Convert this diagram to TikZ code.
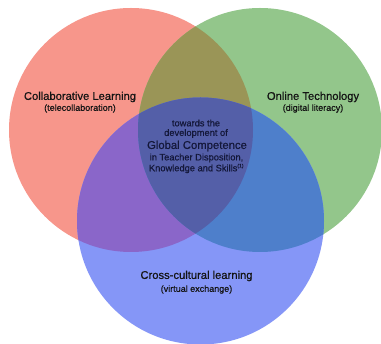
\documentclass[tikz,border=0pt]{standalone}
\usepackage{fontspec}
\setmainfont{Liberation Sans}[FakeBold=0.6]
\newfontfamily\labelfont{Liberation Sans}[FakeBold=0.6]

% region colours of the three-set Venn diagram
\definecolor{collabfill}{HTML}{F7968B}
\definecolor{techfill}{HTML}{93C68B}
\definecolor{crossfill}{HTML}{8596F7}
\definecolor{collabtech}{HTML}{9A9557}
\definecolor{collabcross}{HTML}{8A66C9}
\definecolor{techcross}{HTML}{4E7FCB}
\definecolor{allthree}{HTML}{545FA8}
\definecolor{labeltext}{HTML}{141414}
\definecolor{coretext}{HTML}{14183A}

\tikzset{
  title/.style={text=labeltext, inner sep=0pt, font=\labelfont\fontsize{11.2}{13}\selectfont},
  subtitle/.style={text=labeltext, inner sep=0pt, font=\labelfont\fontsize{9}{10}\selectfont},
  coreline/.style={text=coretext, inner sep=0pt, font=\labelfont\fontsize{9.3}{11}\selectfont},
  corebig/.style={text=coretext, inner sep=0pt, font=\labelfont\fontsize{11.3}{13}\selectfont},
}

\begin{document}
\begin{tikzpicture}[x=1pt,y=-1pt]
\useasboundingbox (0,0) rectangle (381,344);
\fill[white] (0,0) rectangle (381,344);

\coordinate (cA) at (131,130);
\coordinate (cB) at (260,130);
\coordinate (cC) at (200.5,221);

\begin{scope}
  \clip (0,0) rectangle (381,344);
  % single sets
  \fill[collabfill] (cA) circle[radius=122pt];
  \fill[techfill]   (cB) circle[radius=122pt];
  \fill[crossfill]  (cC) circle[radius=123.5pt];
  % pairwise overlaps
  \begin{scope}
    \clip (cA) circle[radius=122pt];
    \fill[collabtech] (cB) circle[radius=122pt];
  \end{scope}
  \begin{scope}
    \clip (cA) circle[radius=122pt];
    \fill[collabcross] (cC) circle[radius=123.5pt];
  \end{scope}
  \begin{scope}
    \clip (cB) circle[radius=122pt];
    \fill[techcross] (cC) circle[radius=123.5pt];
  \end{scope}
  % common core
  \begin{scope}
    \clip (cA) circle[radius=122pt];
    \clip (cB) circle[radius=122pt];
    \fill[allthree] (cC) circle[radius=123.5pt];
  \end{scope}
\end{scope}

% set labels
\node[title]    (collab)    at (80,97)   {Collaborative Learning};
\node[subtitle] (collabsub) at (80,108.5) {(telecollaboration)};
\node[title]    (tech)      at (313,97)  {Online Technology};
\node[subtitle] (techsub)   at (313,108.5) {(digital literacy)};
\node[title]    (cross)     at (196.5,276) {Cross-cultural learning};
\node[subtitle] (crosssub)  at (196.5,289.5) {(virtual exchange)};

% centre statement
\node[coreline] (core1) at (196,123) {towards the};
\node[coreline] (core2) at (196,133.5) {development of};
\node[corebig]  (core3) at (197,146) {Global Competence};
\node[coreline] (core4) at (196.5,158) {in Teacher Disposition,};
\node[coreline] (core5) at (196.5,168.5) {Knowledge and Skills\textsuperscript{\fontsize{5}{5}\selectfont(1)}};
\end{tikzpicture}
\end{document}
